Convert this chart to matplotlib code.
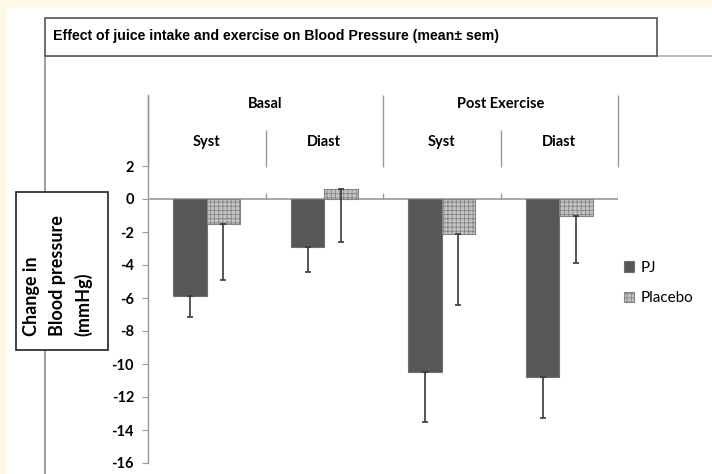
import matplotlib.pyplot as plt
from matplotlib.patches import Rectangle
from matplotlib.lines import Line2D

# data
groups = ["Basal", "Post Exercise"]
measures = ["Syst", "Diast", "Syst", "Diast"]
pj = [-5.9, -2.9, -10.5, -10.8]
pj_err = [1.25, 1.5, 3.0, 2.5]
placebo = [-1.5, 0.6, -2.1, -1.0]
placebo_err = [3.43, 3.23, 4.32, 2.9]
yticks = [-16, -14, -12, -10, -8, -6, -4, -2, 0, 2]

W, H = 712, 474
def fx(x): return x / W
def fy(y): return 1 - y / H

plt.rcParams['hatch.linewidth'] = 0.6
lab_font = ['Lato', 'DejaVu Sans']

fig = plt.figure(figsize=(7.12, 4.74), dpi=100, facecolor='white')

# cream page margin top / left
fig.patches.append(Rectangle((0, fy(8)), 1, 8 / H, transform=fig.transFigure,
                             facecolor='#fdf9e6', edgecolor='none', zorder=0))
fig.patches.append(Rectangle((0, 0), 7 / W, 1, transform=fig.transFigure,
                             facecolor='#fdf9e6', edgecolor='none', zorder=0))

# outer chart border (runs off the image)
fig.add_artist(Line2D([fx(45), 1], [fy(56), fy(56)], color='#b0b0b0', lw=1.2))
fig.add_artist(Line2D([fx(45), fx(45)], [fy(56), 0], color='#8c8c8c', lw=1.2))

# title box
fig.patches.append(Rectangle((fx(45), fy(56)), (657 - 45) / W, 38 / H,
                             transform=fig.transFigure, facecolor='white',
                             edgecolor='#555555', lw=1.2, zorder=3))
fig.text(fx(53), fy(36), "Effect of juice intake and exercise on Blood Pressure (mean\u00b1 sem)",
         fontsize=10.2, fontweight='bold', va='center', ha='left', zorder=4,
         family=['Liberation Sans', 'DejaVu Sans'])

# y label box
fig.patches.append(Rectangle((fx(16), fy(350)), (108 - 16) / W, (350 - 192) / H,
                             transform=fig.transFigure, facecolor='white',
                             edgecolor='#222222', lw=1.2, zorder=3))
for xp, s in [(31, "Change in"), (57, "Blood pressure"), (83, "(mmHg)")]:
    fig.text(fx(xp), fy(336), s, rotation=90, rotation_mode='anchor', fontsize=13,
             fontweight='bold', ha='left', va='center', family=lab_font, zorder=4)

# plot area: x 148..618 px, y 95..463 px
ax = fig.add_axes([fx(148), fy(463), (618 - 148) / W, (463 - 95) / H])
ytop = (199 - 95) / 16.5
ax.set_xlim(0, 4)
ax.set_ylim(-16, ytop)
ax.patch.set_alpha(0)
for s in ['top', 'right', 'bottom']:
    ax.spines[s].set_visible(False)
ax.spines['left'].set_color('#9a9a9a')
ax.spines['left'].set_linewidth(1.0)
ax.set_xticks([])
ax.set_yticks(yticks)
ax.set_yticklabels([str(t) for t in yticks], fontweight='bold', fontsize=10.5, family=lab_font)
ax.tick_params(axis='y', length=4, color='#9a9a9a', pad=6)

bw = 0.285
xs = [i + 0.5 for i in range(len(measures))]
ax.bar([x - bw / 2 for x in xs], pj, bw, color='#575757', edgecolor='#6e6e6e',
       lw=0.8, zorder=2, label='PJ')
ax.bar([x + bw / 2 for x in xs], placebo, bw, color='#c4c4c4', edgecolor='#858585',
       hatch='++++', lw=0.8, zorder=2, label='Placebo')
ax.errorbar([x - bw / 2 for x in xs], pj, yerr=[pj_err, [0] * 4], fmt='none',
            ecolor='#3a3a3a', elinewidth=1.2, capsize=2.5, capthick=1.2, zorder=3)
ax.errorbar([x + bw / 2 for x in xs], placebo, yerr=[placebo_err, [0] * 4], fmt='none',
            ecolor='#3a3a3a', elinewidth=1.2, capsize=2.5, capthick=1.2, zorder=3)

# category axis at zero with tick marks
ax.axhline(0, color='#9a9a9a', lw=1.2, zorder=1)
ax.vlines([1, 2, 3, 4], 0, 0.35, color='#9a9a9a', lw=1.0)

# multi-level category labels at top
y_out_top = ytop
y_in_top = (199 - 130) / 16.5
y_bot = (199 - 167) / 16.5
ax.vlines([0, 2, 4], y_bot, y_out_top, color='#9a9a9a', lw=1.0, clip_on=False)
ax.vlines([1, 3], y_bot, y_in_top, color='#9a9a9a', lw=1.0)
for i, g in enumerate(groups):
    ax.text(2 * i + 1, (199 - 104) / 16.5, g, ha='center', va='center',
            fontsize=10.5, fontweight='bold', family=lab_font)
for x, m in zip(xs, measures):
    ax.text(x, (199 - 142) / 16.5, m, ha='center', va='center',
            fontsize=10.5, fontweight='bold', family=lab_font)

fig.legend(loc='center left', bbox_to_anchor=(fx(610), fy(283)), frameon=False,
           handlelength=0.7, handleheight=0.7, handletextpad=0.4, labelspacing=1.1,
           prop={'family': lab_font, 'size': 11})

fig.savefig('out.png', dpi=100, facecolor='white')
